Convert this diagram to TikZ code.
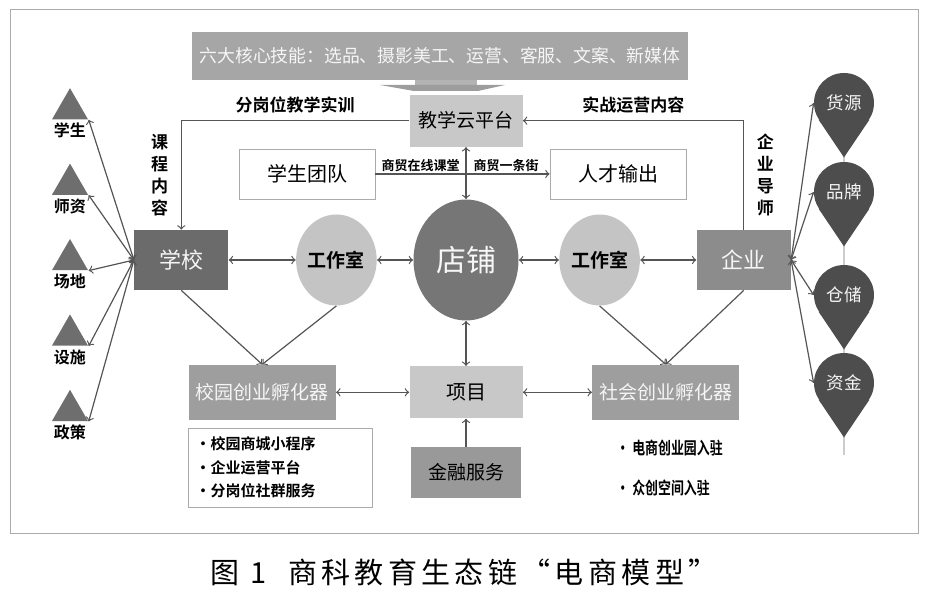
\documentclass[tikz,border=0pt]{standalone}
\usepackage{fontspec}
\setmainfont{Noto Sans CJK SC}[BoldFont={Noto Sans CJK SC Bold}]
\newfontfamily\capfont{Noto Sans CJK SC}[LetterSpace=15]
\newfontfamily\narrowfont{Noto Sans CJK SC Bold}[FakeStretch=0.76]
\usepackage{xcolor}
\usepackage{tikz}
\usetikzlibrary{shapes,arrows,positioning}

\definecolor{bannergray}{HTML}{A6A6A6}
\definecolor{palegray}{HTML}{C8C8C8}
\definecolor{schoolgray}{HTML}{6B6B6B}
\definecolor{firmgray}{HTML}{8C8C8C}
\definecolor{shopgray}{HTML}{767676}
\definecolor{studiogray}{HTML}{C4C4C4}
\definecolor{incubgray}{HTML}{9E9E9E}
\definecolor{fingray}{HTML}{999999}
\definecolor{trigray}{HTML}{6E6E6E}
\definecolor{pingray}{HTML}{4D4D4D}
\definecolor{linegray}{HTML}{555555}
\definecolor{framegray}{HTML}{ABABAB}

\begin{document}
\begin{tikzpicture}[
    x=0.5pt, y=-0.5pt,
    node distance=20pt,
    box/.style={rectangle, inner sep=1pt, align=center, font=\fontsize{9.5}{11}\selectfont},
    palebox/.style={box, fill=palegray, minimum width=56.5pt, minimum height=26pt},
    darkbox/.style={box, fill=schoolgray, text=white!92!gray, minimum width=47pt, minimum height=30pt, font=\fontsize{11}{12}\selectfont},
    incub/.style={box, fill=incubgray, text=white!92!gray, minimum width=73.5pt, minimum height=27.5pt},
    whitebox/.style={box, draw=framegray, fill=white, minimum width=68pt, minimum height=25pt, font=\fontsize{10}{12}\selectfont},
    shop/.style={ellipse, fill=shopgray, text=white!94!gray, inner sep=0pt, minimum width=52.5pt, minimum height=60.5pt, font=\fontsize{15}{16}\selectfont},
    studio/.style={ellipse, fill=studiogray, inner sep=0pt, minimum width=39.5pt, minimum height=45.5pt, font=\bfseries\fontsize{9.5}{11}\selectfont},
    tri/.style={regular polygon, regular polygon sides=3, fill=trigray, inner sep=0pt, minimum size=20.8pt},
    tag/.style={font=\bfseries\fontsize{8}{9}\selectfont, inner sep=1.5pt},
    pin/.style={circle, fill=pingray, text=white!92!gray, inner sep=0pt, minimum size=30pt, font=\fontsize{8.75}{10}\selectfont},
    lab/.style={font=\bfseries\fontsize{8.5}{11}\selectfont, align=center},
    small/.style={font=\bfseries\fontsize{6.5}{7}\selectfont, inner sep=1pt},
    arrow/.style={->, draw=linegray, line width=0.6pt},
    twoway/.style={<->, draw=linegray, line width=0.6pt}
]
\useasboundingbox (0,0) rectangle (938,603);
\draw[framegray, line width=0.5pt] (10,10) rectangle (918,534);

% top banner and its arrow
\node[box, fill=bannergray, text=white!93!gray, minimum width=248pt, minimum height=24pt, font=\fontsize{8.9}{10}\selectfont] (skills) at (440,56) {六大核心技能：选品、摄影美工、运营、客服、文案、新媒体};
\fill[bannergray!85] (415,80) rectangle (477,86);
\fill[bannergray!110] (380,85) -- (505,85) -- (478,91) -- (414,91) -- cycle;

% centre row
\node[shop] (shop) at (466,260) {店铺};
\node[studio, left=18pt of shop] (studioL) {工作室};
\node[darkbox, left=33.5pt of studioL] (school) {学校};
\node[studio, right=20pt of shop] (studioR) {工作室};
\node[darkbox, fill=firmgray, right=28pt of studioR] (firm) {企业};
\node[palebox, above=26pt of shop] (cloud) {教学云平台};
\node[palebox, below=22.5pt of shop, font=\fontsize{10}{12}\selectfont] (project) {项目};
\node[box, fill=fingray, minimum width=55pt, minimum height=25.5pt, below=14pt of project] (finance) {金融服务};
\node[incub, left=36.5pt of project] (campus) {校园创业孵化器};
\node[incub, right=34.5pt of project] (society) {社会创业孵化器};
\node[whitebox] (team) at (307,174) {学生团队};
\node[whitebox] (talent) at (618,174) {人才输出};

% lists under the incubators
\node[box, draw=framegray, text width=85pt, minimum height=39.5pt, inner sep=3.5pt, align=left, font=\bfseries\fontsize{7.5}{11.75}\selectfont] (campuslist) at (280.5,467.5) {•校园商城小程序\\•企业运营平台\\•分岗位社群服务};
\node[box, anchor=west, align=left, font=\narrowfont\fontsize{8.5}{20}\selectfont] (societylist) at (614,468) {• 电商创业园入驻\\• 众创空间入驻};

% school resources
\node[tri, label={[tag]below:学生}] (t1) at (70,109) {};
\node[tri, below=21.5pt of t1, label={[tag]below:师资}] (t2) {};
\node[tri, below=21.5pt of t2, label={[tag]below:场地}] (t3) {};
\node[tri, below=21.5pt of t3, label={[tag]below:设施}] (t4) {};
\node[tri, below=21.5pt of t4, label={[tag]below:政策}] (t5) {};

% enterprise resources
\coordinate (chainend) at (844,455);
\draw[gray!40, line width=0.8pt] (844,150) -- (chainend);
\node[pin] (b1) at (844,103) {货源};
\node[pin] (b2) at (844,192) {品牌};
\node[pin] (b3) at (844,295) {仓储};
\node[pin] (b4) at (844,383) {资金};
\fill[pingray] (b1.-34) -- ([yshift=-12pt]b1.south) -- (b1.-146) -- cycle;
\fill[pingray] (b2.-34) -- ([yshift=-12pt]b2.south) -- (b2.-146) -- cycle;
\fill[pingray] (b3.-34) -- ([yshift=-12pt]b3.south) -- (b3.-146) -- cycle;
\fill[pingray] (b4.-34) -- ([yshift=-12pt]b4.south) -- (b4.-146) -- cycle;

% connectors
\draw[arrow] (cloud.west) -| node[lab, above, pos=0.25] {分岗位教学实训} node[lab, left=3pt, pos=0.75] {课\\程\\内\\容} (school.north);
\draw[arrow] (firm.north) |- node[lab, right=3pt, pos=0.25] {企\\业\\导\\师} node[lab, above, pos=0.75] {实战运营内容} (cloud.east);
\draw[arrow] (team) -- node[small, above, pos=0.26] {商贸在线课堂} node[small, above, pos=0.75] {商贸一条街} (talent);
\draw[twoway] (cloud) -- (shop);
\draw[twoway] (school) -- (studioL);
\draw[twoway] (studioL) -- (shop);
\draw[twoway] (shop) -- (studioR);
\draw[twoway] (studioR) -- (firm);
\draw[twoway] (shop) -- (project);
\draw[twoway] (campus) -- (project);
\draw[twoway] (project) -- (society);
\draw[arrow] (finance) -- (project);
\draw[arrow] (school.south) -- (campus.north);
\draw[arrow] (studioL.south) -- (campus.north);
\draw[arrow] (studioR.south) -- (society.north);
\draw[arrow] (firm.south) -- (society.north);
\draw[twoway] (school.west) -- (t1.-30);
\draw[twoway] (school.west) -- (t2.-30);
\draw[twoway] (school.west) -- (t3.-30);
\draw[twoway] (school.west) -- (t4.-30);
\draw[twoway] (school.west) -- (t5.-30);
\draw[twoway] (firm.east) -- (b1.west);
\draw[twoway] (firm.east) -- (b2.west);
\draw[twoway] (firm.east) -- (b3.west);
\draw[twoway] (firm.east) -- (b4.west);

% caption
\node[font=\capfont\fontsize{14.5}{16}\selectfont] (caption) at (464,572) {图 1\ \ 商科教育生态链“电商模型”};
\end{tikzpicture}
\end{document}
